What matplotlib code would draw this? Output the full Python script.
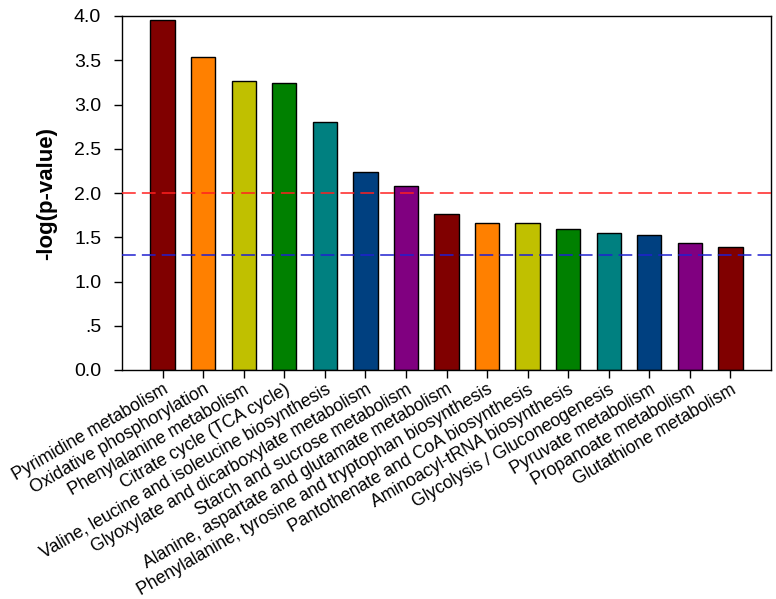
import matplotlib
matplotlib.use("Agg")
import matplotlib.pyplot as plt
from matplotlib.ticker import FuncFormatter

plt.rcParams['font.family'] = ['Liberation Sans', 'DejaVu Sans']

pathways = [
    "Pyrimidine metabolism",
    "Oxidative phosphorylation",
    "Phenylalanine metabolism",
    "Citrate cycle (TCA cycle)",
    "Valine, leucine and isoleucine biosynthesis",
    "Glyoxylate and dicarboxylate metabolism",
    "Starch and sucrose metabolism",
    "Alanine, aspartate and glutamate metabolism",
    "Phenylalanine, tyrosine and tryptophan biosynthesis",
    "Pantothenate and CoA biosynthesis",
    "Aminoacyl-tRNA biosynthesis",
    "Glycolysis / Gluconeogenesis",
    "Pyruvate metabolism",
    "Propanoate metabolism",
    "Glutathione metabolism",
]
neg_log_p = [3.955, 3.537, 3.27, 3.24, 2.80, 2.237, 2.075, 1.763, 1.657, 1.657,
             1.597, 1.552, 1.522, 1.431, 1.386]
palette = ["#800000", "#FF8000", "#C0C000", "#008000", "#008080", "#004080", "#800080"]
threshold_red = 2.0
threshold_blue = 1.3
yticks = [0.0, 0.5, 1.0, 1.5, 2.0, 2.5, 3.0, 3.5, 4.0]

fig = plt.figure(figsize=(7.76, 5.99), dpi=100)
ax = fig.add_axes([122/776, 1 - 370/599, (771 - 122)/776, (370 - 16)/599])

x = list(range(len(pathways)))
colors = [palette[i % len(palette)] for i in x]
ax.bar(x, neg_log_p, width=0.6, color=colors, edgecolor="black", linewidth=1.0, zorder=2)

ax.axhline(threshold_red, color="#FF2020", linestyle=(0, (9, 4)), linewidth=1.1, zorder=3)
ax.axhline(threshold_blue, color="#2020D0", linestyle=(0, (9, 4)), linewidth=1.1, zorder=3)

ax.set_xlim(-1, len(pathways))
ax.set_ylim(0, 4.0)
ax.set_yticks(yticks)

def fmt(v, pos):
    s = f"{v:.1f}"
    if s.startswith("0.") and v != 0:
        s = s[1:]
    return s

ax.yaxis.set_major_formatter(FuncFormatter(fmt))
ax.set_xticks(x)
ax.set_xticklabels(pathways, rotation=30, ha="right", rotation_mode="anchor", fontsize=12.7)
ax.tick_params(axis="y", direction="out", length=6, width=1, labelsize=14, pad=9)
ax.tick_params(axis="x", direction="out", length=6, width=1, pad=2)
ax.set_ylabel("-log(p-value)", fontsize=16, fontweight="bold", labelpad=12)

for s in ax.spines.values():
    s.set_linewidth(1.0)

fig.savefig("out.png", dpi=100)
